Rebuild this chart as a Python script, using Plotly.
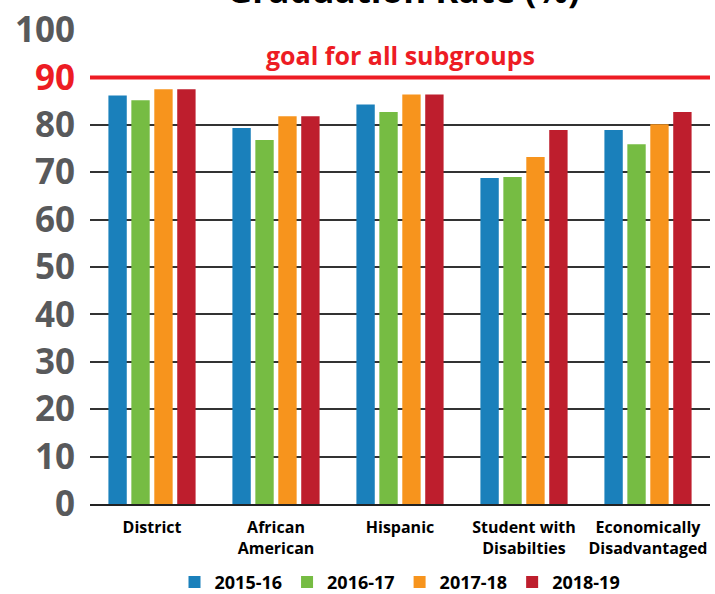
import plotly.graph_objects as go

categories = ["District", "African<br>American", "Hispanic", "Student with<br>Disabilties", "Economically<br>Disadvantaged"]
years = ["2015-16", "2016-17", "2017-18", "2018-19"]
v2015 = [86.2, 79.3, 84.3, 68.8, 78.9]
v2016 = [85.2, 76.8, 82.7, 69.0, 75.9]
v2017 = [87.5, 81.8, 86.4, 73.2, 80.1]
v2018 = [87.5, 81.8, 86.4, 78.9, 82.7]
colors = ["#1A80BB", "#76BC43", "#F7941D", "#BE1E2D"]
goal = 90
ytick_vals = [0, 10, 20, 30, 40, 50, 60, 70, 80, 90, 100]

FONT = "Open Sans"
fig = go.Figure()
for name, vals, c in zip(years, [v2015, v2016, v2017, v2018], colors):
    fig.add_trace(go.Bar(name=name, x=categories, y=vals, marker_color=c, marker_line_width=0))

ticktext = [("<span style='color:#ED1C24'>%d</span>" % v) if v == goal else str(v) for v in ytick_vals]

fig.update_layout(
    width=715, height=594,
    margin=dict(l=90, r=5, t=30, b=90, autoexpand=False),
    paper_bgcolor="white", plot_bgcolor="white",
    barmode="group", bargap=0.26, bargroupgap=0.2,
    font=dict(family=FONT, color="black"),
    showlegend=True,
    legend=dict(orientation="h", x=0.5, xanchor="center", y=-0.165, yanchor="middle",
                font=dict(size=18, family=FONT, weight="bold", color="black"),
                itemwidth=30, traceorder="normal"),
    xaxis=dict(showgrid=False, showline=True, linecolor="#222", linewidth=2,
               tickfont=dict(size=16, family=FONT, weight="bold", color="black"),
               ticks="", range=[-0.5, 4.5], automargin=False, ticklabelstandoff=8),
    yaxis=dict(range=[0, 100], tickvals=ytick_vals, ticktext=ticktext,
               showgrid=True, gridcolor="#333", gridwidth=2, zeroline=False,
               tickfont=dict(size=35, family=FONT, weight="bold", color="#58595B"),
               ticklabelstandoff=14, showline=False, automargin=False),
    shapes=[dict(type="line", xref="paper", x0=0, x1=1, yref="y", y0=goal, y1=goal,
                 line=dict(color="#ED1C24", width=4))],
    annotations=[
        dict(text="goal for all subgroups", xref="paper", x=0.5, yref="y", y=goal,
             yanchor="bottom", yshift=3, showarrow=False,
             font=dict(size=25, family=FONT, weight="bold", color="#ED1C24")),
        dict(text="Graduation Rate (%)", xref="paper", x=0.505, yref="paper", y=1,
             yanchor="bottom", yshift=15, showarrow=False,
             font=dict(size=35, family=FONT, weight="bold", color="black")),
    ],
)

fig.write_html("out.html", config={"displayModeBar": False},
               post_script="document.body.style.margin='0';document.body.style.overflow='hidden';")
